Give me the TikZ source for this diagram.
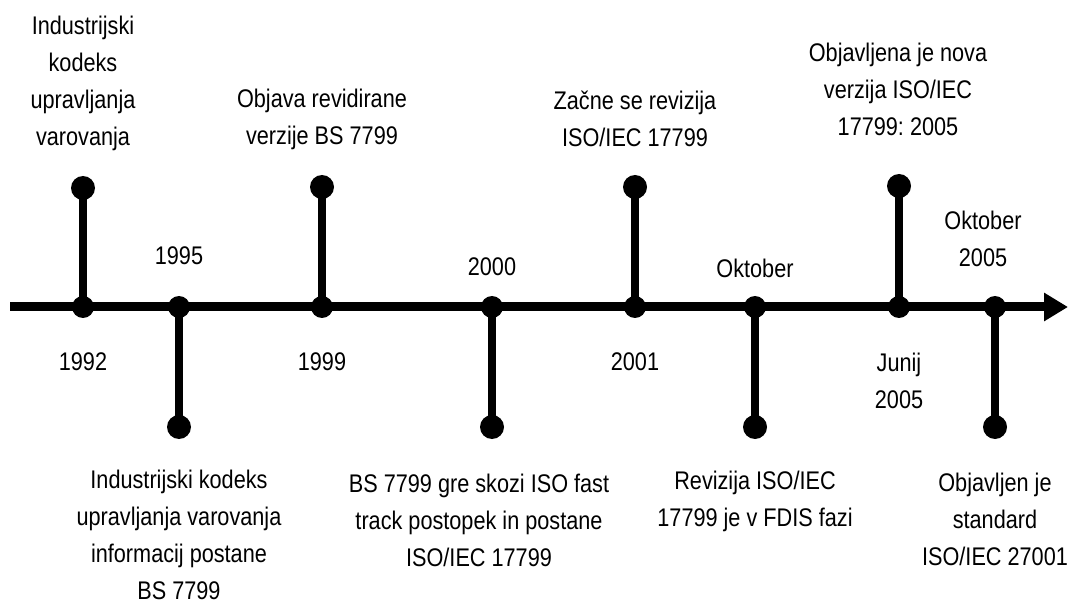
\documentclass[tikz,border=0pt]{standalone}
\usepackage{fontspec}
\setmainfont{Liberation Sans}[FakeStretch=0.85]
\usetikzlibrary{arrows.meta}
\frenchspacing
\begin{document}
\begin{tikzpicture}[x=1pt,y=-1pt,
  dotnode/.style={circle,fill=black,inner sep=0pt,minimum size=24pt},
  jn/.style={circle,fill=black,inner sep=0pt,minimum size=22pt},
  stem/.style={line width=8.5pt},
  lbl/.style={align=center,inner sep=0pt,font=\fontsize{25.5}{37}\selectfont},
  axis/.style={line width=9pt,-{Triangle[length=24pt,width=27pt]}}]
\useasboundingbox (0,0) rectangle (1069,604);
% axis
\coordinate (start) at (10,307);
\coordinate (tip) at (1068,307);
\draw[axis] (start) -- (tip);
% junctions on axis
\node[jn] (m1) at (83,307) {};
\node[jn] (m2) at (179,307) {};
\node[jn] (m3) at (322,307) {};
\node[jn] (m4) at (492,307) {};
\node[jn] (m5) at (635,307) {};
\node[jn] (m6) at (755,307) {};
\node[jn] (m7) at (899,307) {};
\node[jn] (m8) at (995,307) {};
% end dots
\node[dotnode] (d1) at (83,188) {};
\node[dotnode] (d2) at (179,427) {};
\node[dotnode] (d3) at (322,187) {};
\node[dotnode] (d4) at (492,427) {};
\node[dotnode] (d5) at (635,187) {};
\node[dotnode] (d6) at (755,427) {};
\node[dotnode] (d7) at (899,186) {};
\node[dotnode] (d8) at (995,427) {};
\foreach \i in {1,...,8} \draw[stem] (m\i.center) -- (d\i.center);
% top texts
\node[lbl] (t1) at (83,83) {Industrijski\\kodeks\\upravljanja\\varovanja};
\node[lbl] (t3) at (322,119) {Objava revidirane\\verzije BS 7799};
\node[lbl] (t5) at (635,119) {Začne se revizija\\ISO/IEC 17799};
\node[lbl] (t7) at (898,89) {Objavljena je nova\\verzija ISO/IEC\\17799: 2005};
% dates above axis
\node[lbl] (y2) at (179,256) {1995};
\node[lbl] (y4) at (492,267) {2000};
\node[lbl] (y6) at (755,268) {Oktober};
\node[lbl] (y8) at (983,239) {Oktober\\2005};
% dates below axis
\node[lbl] (y1) at (83,362) {1992};
\node[lbl] (y3) at (322,362) {1999};
\node[lbl] (y5) at (635,362) {2001};
\node[lbl] (y7) at (899,381) {Junij\\2005};
% bottom texts
\node[lbl] (b2) at (179,535) {Industrijski kodeks\\upravljanja varovanja\\informacij postane\\BS 7799};
\node[lbl] (b4) at (479,520) {BS 7799 gre skozi ISO fast\\track postopek in postane\\ISO/IEC 17799};
\node[lbl] (b6) at (755,501) {Revizija ISO/IEC\\17799 je v FDIS fazi};
\node[lbl] (b8) at (995,519) {Objavljen je\\standard\\ISO/IEC 27001};
\end{tikzpicture}
\end{document}
